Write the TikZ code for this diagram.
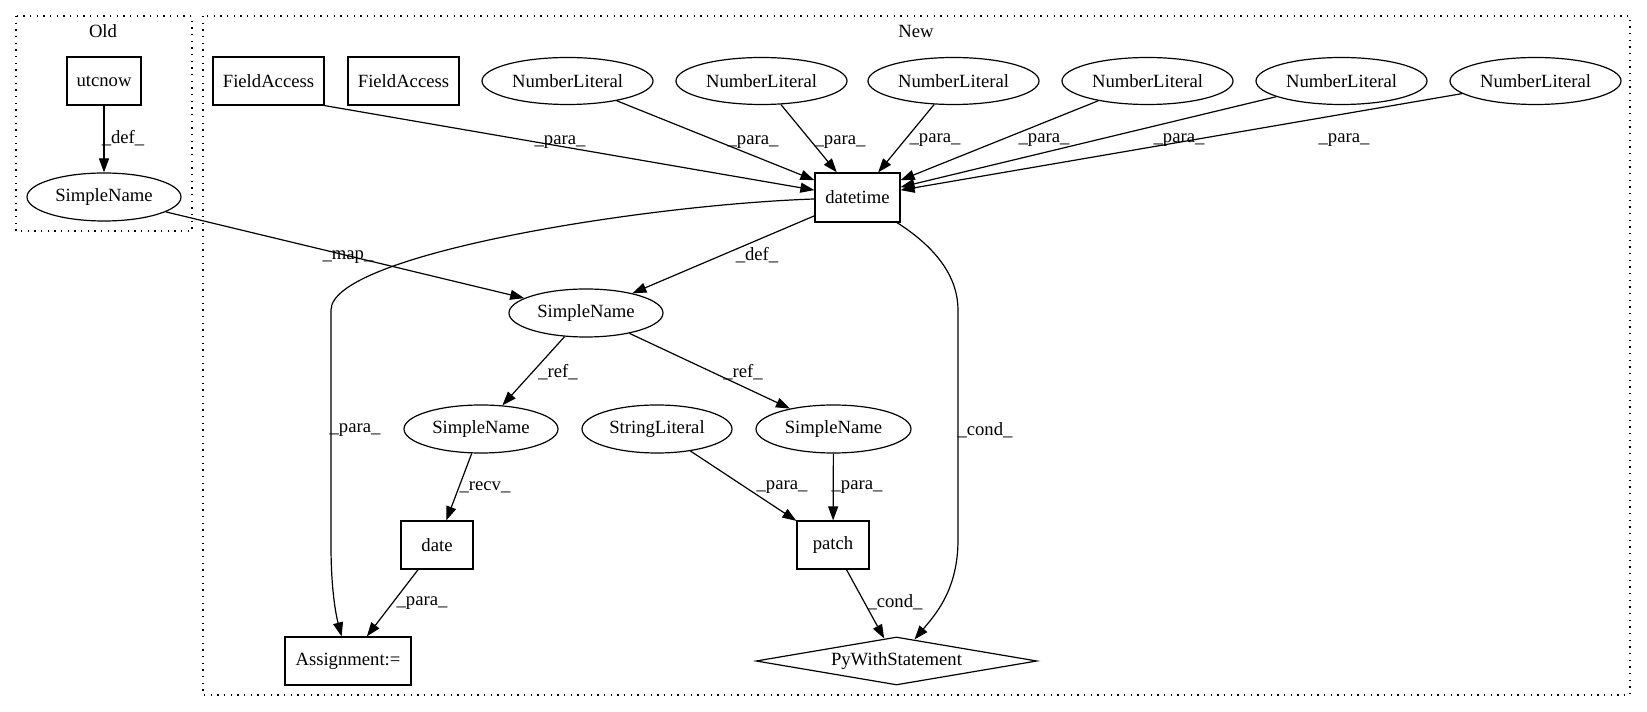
\documentclass[tikz,border=0pt]{standalone}
\usepackage{fontspec}
\setmainfont{Liberation Serif}
\usetikzlibrary{arrows.meta,shapes.geometric}
\begin{document}
\begin{tikzpicture}[x=0.75pt,y=-0.75pt,
  txt/.style={font=\fontsize{14}{16}\selectfont},
  box/.style={txt,draw,rectangle,line width=0.9pt,inner sep=0pt,minimum height=36pt},
  ell/.style={txt,draw,ellipse,line width=0.9pt,inner sep=0pt,minimum height=36pt},
  dia/.style={txt,draw,diamond,line width=0.9pt,inner sep=0pt,aspect=5.85,minimum width=210.75pt,minimum height=36pt},
  lbl/.style={txt,inner sep=0pt},
  edg/.style={draw,line width=0.9pt,-{Triangle[length=10.5pt,width=7.5pt]}},
  clu/.style={draw,line width=1pt,dash pattern=on 1pt off 4pt}]
\useasboundingbox (0,0) rectangle (1647,712);
% clusters
\draw[clu] (16,16) rectangle (192,231);
\node[lbl] (oldl) at (103,31) {Old};
\draw[clu] (203,16) rectangle (1630,695);
\node[lbl] (newl) at (916,31) {New};
% old
\node[box,minimum width=55.5pt] (ut) at (104,81) {utcnow};
\node[ell,minimum width=115.5pt] (on) at (104,197) {SimpleName};
% new top row
\node[box,minimum width=83.25pt] (fa1) at (268.5,81) {FieldAccess};
\node[box,minimum width=83.25pt] (fa2) at (403.5,81) {FieldAccess};
\node[ell,minimum width=128.25pt,minimum height=35.25pt] (n1) at (567.5,81) {NumberLiteral};
\node[ell,minimum width=128.25pt,minimum height=35.25pt] (n2) at (761.5,81) {NumberLiteral};
\node[ell,minimum width=128.25pt,minimum height=35.25pt] (n3) at (953.5,81) {NumberLiteral};
\node[ell,minimum width=128.25pt,minimum height=35.25pt] (n4) at (1147.5,81) {NumberLiteral};
\node[ell,minimum width=128.25pt,minimum height=35.25pt] (n5) at (1341.5,81) {NumberLiteral};
\node[ell,minimum width=128.25pt,minimum height=35.25pt] (n6) at (1535.5,81) {NumberLiteral};
\node[box,minimum width=63.75pt,minimum height=36.75pt] (dt) at (857.5,197.5) {datetime};
\node[ell,minimum width=115.5pt] (sn) at (586,313) {SimpleName};
\node[ell,minimum width=115.5pt] (snl) at (481,429) {SimpleName};
\node[ell,minimum width=112.5pt] (sl) at (657,429) {StringLiteral};
\node[ell,minimum width=116.25pt] (snr) at (833.5,429) {SimpleName};
\node[box,minimum width=54pt] (date) at (437,545) {date};
\node[box,minimum width=54pt] (patch) at (833,545) {patch};
\node[box,minimum width=94.5pt] (asg) at (348,661) {Assignment:=};
\node[dia] (py) at (896.5,661) {PyWithStatement};
% edges
\draw[edg] (ut) -- (on);
\node[lbl] (l1) at (123,138) {\_def\_};
\draw[edg] (on) -- (sn);
\node[lbl] (l2) at (348,257) {\_map\_};
\draw[edg] (fa1.south east) -- (dt);
\node[lbl] (l3) at (560,142) {\_para\_};
\draw[edg] (n1) -- (dt);
\node[lbl] (l4) at (753,142) {\_para\_};
\draw[edg] (n2) -- (dt);
\node[lbl] (l5) at (840,142) {\_para\_};
\draw[edg] (n3) -- (dt);
\node[lbl] (l6) at (935,140) {\_para\_};
\draw[edg] (n4) -- (dt);
\node[lbl] (l7) at (1044,140) {\_para\_};
\draw[edg] (n5) -- (dt);
\node[lbl] (l8) at (1179,140) {\_para\_};
\draw[edg] (n6) -- (dt);
\node[lbl] (l9) at (1344,140) {\_para\_};
\draw[edg] (dt) -- (sn);
\node[lbl] (l10) at (757,255) {\_def\_};
\draw[edg] (sn) -- (snl);
\node[lbl] (l11) at (558,372) {\_ref\_};
\draw[edg] (sn) -- (snr);
\node[lbl] (l12) at (743,372) {\_ref\_};
\draw[edg] (snl) -- (date);
\node[lbl] (l13) at (485,487) {\_recv\_};
\draw[edg] (sl) -- (patch);
\node[lbl] (l14) at (782,487) {\_para\_};
\draw[edg] (snr) -- (patch);
\node[lbl] (l15) at (857,487) {\_para\_};
\draw[edg] (date) -- (asg);
\node[lbl] (l16) at (422,603) {\_para\_};
\draw[edg] (patch) -- (py);
\node[lbl] (l17) at (895,602) {\_cond\_};
\draw[edg] (dt) .. controls (640,205) and (331,255) .. (331,310) -- (331,545) .. controls (331,590) and (336,615) .. (asg);
\node[lbl] (l18) at (355,430) {\_para\_};
\draw[edg] (dt) .. controls (940,250) and (958,280) .. (958,310) -- (958,540) .. controls (958,590) and (935,615) .. (py);
\node[lbl] (l19) at (985,430) {\_cond\_};
\end{tikzpicture}
\end{document}
